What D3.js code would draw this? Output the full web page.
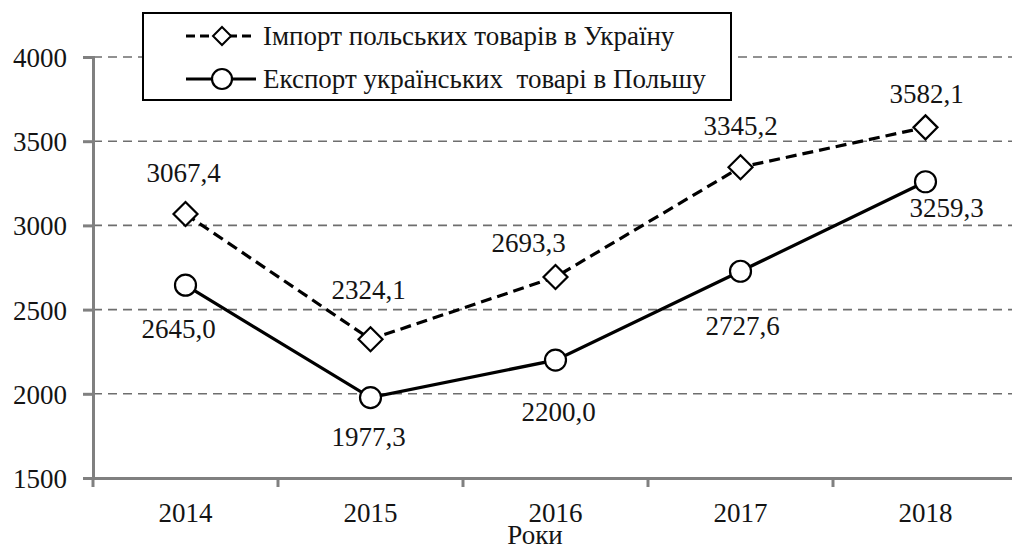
<!DOCTYPE html>
<html>
<head>
<meta charset="utf-8">
<script src="https://cdn.jsdelivr.net/npm/d3@7"></script>
<style>
html,body{margin:0;padding:0;background:#fff;}
svg{display:block;}
</style>
</head>
<body>
<svg id="chart" width="1012" height="549"></svg>
<script>
const years = ["2014", "2015", "2016", "2017", "2018"];
const importValues = [3067.4, 2324.1, 2693.3, 3345.2, 3582.1];
const exportValues = [2645.0, 1977.3, 2200.0, 2727.6, 3259.3];
const yTicks = [1500, 2000, 2500, 3000, 3500, 4000];
const seriesNames = ["Імпорт польських товарів в Україну", "Експорт українських  товарі в Польшу"];
const axisTitle = "Роки";

// layout-only label offsets (dx, dy) relative to each point
const importLabelOffsets = [[-2, -32], [-2, -40], [-27, -25], [0, -32], [1, -24]];
const exportLabelOffsets = [[-7, 53], [-2, 48], [3, 61], [2, 64], [21, 35]];

const svg = d3.select("#chart");
const mLeft = 93, mRight = 1018, mTop = 57, mBottom = 478;
const FONT = '"Liberation Serif"';
const fontSize = "27px";
const textColor = "#141414";
const styleText = sel => sel.attr("font-family", "Liberation Serif")
  .style("font-family", FONT).style("font-size", fontSize).style("fill", textColor);

const x = d3.scaleBand().domain(years).range([mLeft, mRight]).padding(0);
const y = d3.scaleLinear().domain([1500, 4000]).range([mBottom, mTop]);
const cx = d => x(d) + x.bandwidth() / 2;
const fmt = v => d3.format(".1f")(v).replace(".", ",");

// gridlines
svg.append("g").selectAll("line").data(yTicks.filter(t => t > 1500)).join("line")
  .attr("x1", mLeft).attr("x2", 1012)
  .attr("y1", d => y(d)).attr("y2", d => y(d))
  .attr("stroke", "#6e6e6e").attr("stroke-width", 1.6)
  .attr("stroke-dasharray", "9,6");

// y axis
const yAxis = svg.append("g").attr("transform", `translate(${mLeft},0)`)
  .call(d3.axisLeft(y).tickValues(yTicks).tickSize(10).tickPadding(16).tickFormat(d3.format("d")));
yAxis.attr("font-family", null).attr("font-size", null);
yAxis.select(".domain").attr("stroke", "#808080").attr("stroke-width", 3);
yAxis.selectAll(".tick line").attr("stroke", "#808080").attr("stroke-width", 3);
yAxis.selectAll(".tick text").call(styleText).attr("dy", "0.35em");

// x axis
const xAxis = svg.append("g").attr("transform", `translate(0,${mBottom})`)
  .call(d3.axisBottom(x).tickSize(0).tickPadding(25));
xAxis.attr("font-family", null).attr("font-size", null);
xAxis.select(".domain").attr("stroke", "#808080").attr("stroke-width", 3);
xAxis.selectAll(".tick text").call(styleText).attr("dy", "0.71em");
svg.append("g").selectAll("line").data(years).join("line")
  .attr("x1", d => x(d)).attr("x2", d => x(d))
  .attr("y1", mBottom).attr("y2", mBottom + 9)
  .attr("stroke", "#808080").attr("stroke-width", 3);

svg.append("text").attr("x", 535).attr("y", 544).attr("text-anchor", "middle")
  .call(styleText).text(axisTitle);

// lines
const line = d3.line().x((d, i) => cx(years[i])).y(d => y(d));
svg.append("path").datum(importValues).attr("d", line)
  .attr("fill", "none").attr("stroke", "#000").attr("stroke-width", 3.2)
  .attr("stroke-dasharray", "11,6");
svg.append("path").datum(exportValues).attr("d", line)
  .attr("fill", "none").attr("stroke", "#000").attr("stroke-width", 3.2);

// markers
const diamond = (s) => `M0,${-s}L${s},0L0,${s}L${-s},0Z`;
svg.append("g").selectAll("path").data(importValues).join("path")
  .attr("transform", (d, i) => `translate(${cx(years[i])},${y(d)})`)
  .attr("d", diamond(12)).attr("fill", "#fff").attr("stroke", "#000").attr("stroke-width", 2.2);
svg.append("g").selectAll("circle").data(exportValues).join("circle")
  .attr("cx", (d, i) => cx(years[i])).attr("cy", d => y(d)).attr("r", 10.5)
  .attr("fill", "#fff").attr("stroke", "#000").attr("stroke-width", 2.2);

// data labels
svg.append("g").selectAll("text").data(importValues).join("text")
  .attr("x", (d, i) => cx(years[i]) + importLabelOffsets[i][0])
  .attr("y", (d, i) => y(d) + importLabelOffsets[i][1])
  .attr("text-anchor", "middle").call(styleText).text(fmt);
svg.append("g").selectAll("text").data(exportValues).join("text")
  .attr("x", (d, i) => cx(years[i]) + exportLabelOffsets[i][0])
  .attr("y", (d, i) => y(d) + exportLabelOffsets[i][1])
  .attr("text-anchor", "middle").call(styleText).text(fmt);

// legend
const lg = svg.append("g");
lg.append("rect").attr("x", 143).attr("y", 13).attr("width", 588).attr("height", 87)
  .attr("fill", "#fff").attr("stroke", "#000").attr("stroke-width", 2);
const rows = [36, 79];
lg.append("line").attr("x1", 186).attr("x2", 256).attr("y1", rows[0]).attr("y2", rows[0])
  .attr("stroke", "#000").attr("stroke-width", 3.2).attr("stroke-dasharray", "9,5");
lg.append("path").attr("transform", `translate(222,${rows[0]})`).attr("d", diamond(9))
  .attr("fill", "#fff").attr("stroke", "#000").attr("stroke-width", 2);
lg.append("line").attr("x1", 186).attr("x2", 256).attr("y1", rows[1]).attr("y2", rows[1])
  .attr("stroke", "#000").attr("stroke-width", 3.2);
lg.append("circle").attr("cx", 222).attr("cy", rows[1]).attr("r", 10)
  .attr("fill", "#fff").attr("stroke", "#000").attr("stroke-width", 2.2);
lg.selectAll("text.lt").data(seriesNames).join("text").attr("class", "lt")
  .attr("x", 263).attr("y", (d, i) => rows[i]).attr("dy", "0.35em")
  .call(styleText).style("white-space", "pre").text(d => d);
</script>
</body>
</html>
